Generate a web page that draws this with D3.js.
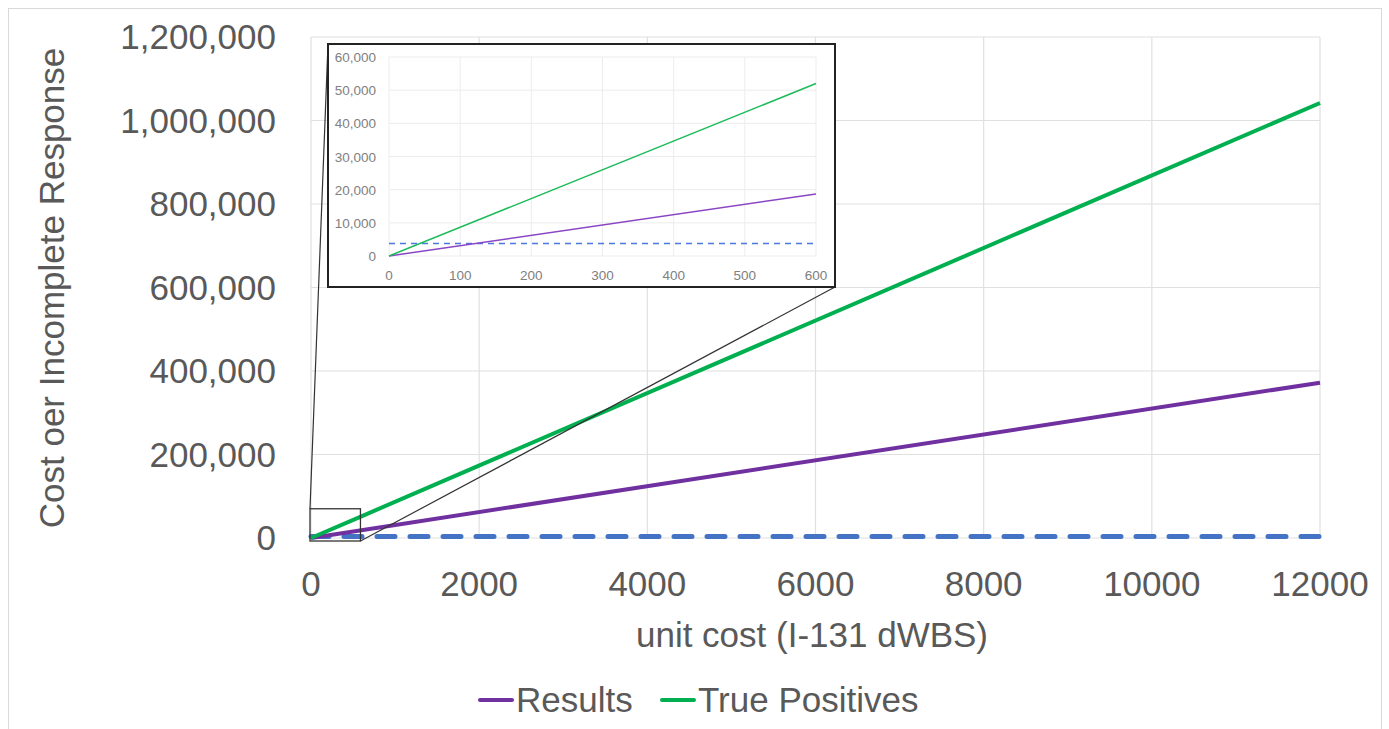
<!DOCTYPE html>
<html>
<head>
<meta charset="utf-8">
<script src="https://cdn.jsdelivr.net/npm/d3@7"></script>
<style>
  body { margin: 0; background: #fff; }
  text { font-family: "Liberation Sans", Arial, sans-serif; }
</style>
</head>
<body>
<script>
// data
var unitCost = [0, 600, 12000];
var results = [0, 18700, 372000];
var truePositives = [0, 52000, 1042000];
var threshold = [3800, 3800, 3800];
var xTicks = [0, 2000, 4000, 6000, 8000, 10000, 12000];
var yTicks = [0, 200000, 400000, 600000, 800000, 1000000, 1200000];
var insetXTicks = [0, 100, 200, 300, 400, 500, 600];
var insetYTicks = [0, 10000, 20000, 30000, 40000, 50000, 60000];

var width = 1389, height = 729;
var svg = d3.select('body').append('svg')
    .attr('width', width)
    .attr('height', height);

// outer frame
svg.append('rect')
    .attr('x', 8.5).attr('y', 8.5)
    .attr('width', 1373).attr('height', 740)
    .attr('fill', '#fff').attr('stroke', '#d9d9d9');

var x = d3.scaleLinear().domain([0, 12000]).range([311, 1320]);
var y = d3.scaleLinear().domain([0, 1200000]).range([538, 37]);
var fmt = d3.format(',');
var fs = 35;

// grid
svg.append('g').selectAll('line').data(yTicks).enter().append('line')
    .attr('x1', x(0)).attr('x2', x(12000))
    .attr('y1', function (d) { return y(d); }).attr('y2', function (d) { return y(d); })
    .attr('stroke', '#e0e0e0').attr('stroke-width', 1.2);
svg.append('g').selectAll('line').data(xTicks).enter().append('line')
    .attr('y1', y(0)).attr('y2', y(1200000))
    .attr('x1', function (d) { return x(d); }).attr('x2', function (d) { return x(d); })
    .attr('stroke', '#e0e0e0').attr('stroke-width', 1.2);

// tick labels
svg.append('g').selectAll('text').data(yTicks).enter().append('text')
    .attr('x', 276).attr('y', function (d) { return y(d) + 12; })
    .attr('text-anchor', 'end')
    .attr('font-size', fs).attr('fill', '#595959')
    .text(function (d) { return fmt(d); });
svg.append('g').selectAll('text').data(xTicks).enter().append('text')
    .attr('x', function (d) { return x(d); }).attr('y', 596)
    .attr('text-anchor', 'middle')
    .attr('font-size', fs).attr('fill', '#595959')
    .text(function (d) { return d; });

// axis titles
svg.append('text')
    .attr('x', 812).attr('y', 647)
    .attr('text-anchor', 'middle')
    .attr('font-size', fs).attr('fill', '#595959')
    .text('unit cost (I-131 dWBS)');
svg.append('text')
    .attr('transform', 'translate(64,288) rotate(-90)')
    .attr('text-anchor', 'middle')
    .attr('font-size', fs).attr('fill', '#595959')
    .text('Cost oer Incomplete Response');

function series(xs, ys, sx, sy) {
    return d3.line()
        .x(function (d, i) { return sx(xs[i]); })
        .y(function (d) { return sy(d); })(ys);
}

// main series
svg.append('path').attr('d', series(unitCost, threshold, x, y))
    .attr('fill', 'none').attr('stroke', '#4472C4').attr('stroke-width', 5)
    .attr('stroke-dasharray', '18,15').attr('stroke-linecap', 'round');
svg.append('path').attr('d', series(unitCost, results, x, y))
    .attr('fill', 'none').attr('stroke', '#7030A0').attr('stroke-width', 4);
svg.append('path').attr('d', series(unitCost, truePositives, x, y))
    .attr('fill', 'none').attr('stroke', '#00B050').attr('stroke-width', 4);

// zoom region marker and connectors
var insetBox = { x0: 328, y0: 44, x1: 835, y1: 287 };
var rx0 = x(0) - 1, rx1 = x(600) - 1, ry0 = y(70000), ry1 = y(0) + 3;
svg.append('rect')
    .attr('x', rx0).attr('y', ry0)
    .attr('width', rx1 - rx0).attr('height', ry1 - ry0)
    .attr('fill', 'none').attr('stroke', '#333').attr('stroke-width', 1.3);
svg.append('line')
    .attr('x1', rx0).attr('y1', ry0).attr('x2', insetBox.x0).attr('y2', insetBox.y0)
    .attr('stroke', '#333').attr('stroke-width', 1.2);
svg.append('line')
    .attr('x1', rx1).attr('y1', ry1).attr('x2', insetBox.x1).attr('y2', insetBox.y1)
    .attr('stroke', '#333').attr('stroke-width', 1.2);

// inset
svg.append('rect')
    .attr('x', insetBox.x0).attr('y', insetBox.y0)
    .attr('width', insetBox.x1 - insetBox.x0).attr('height', insetBox.y1 - insetBox.y0)
    .attr('fill', '#fff').attr('stroke', '#222').attr('stroke-width', 2);

var ix = d3.scaleLinear().domain([0, 600]).range([389, 816]);
var iy = d3.scaleLinear().domain([0, 60000]).range([256, 57]);
var inset = svg.append('g');

inset.selectAll('line.h').data(insetYTicks).enter().append('line')
    .attr('x1', ix(0)).attr('x2', ix(600))
    .attr('y1', function (d) { return iy(d); }).attr('y2', function (d) { return iy(d); })
    .attr('stroke', '#ececec');
inset.selectAll('line.v').data(insetXTicks).enter().append('line')
    .attr('y1', iy(0)).attr('y2', iy(60000))
    .attr('x1', function (d) { return ix(d); }).attr('x2', function (d) { return ix(d); })
    .attr('stroke', '#ececec');
inset.selectAll('text.y').data(insetYTicks).enter().append('text')
    .attr('x', 376).attr('y', function (d) { return iy(d) + 5; })
    .attr('text-anchor', 'end').attr('font-size', 13.5).attr('fill', '#808080')
    .text(function (d) { return fmt(d); });
inset.selectAll('text.x').data(insetXTicks).enter().append('text')
    .attr('x', function (d) { return ix(d); }).attr('y', 280)
    .attr('text-anchor', 'middle').attr('font-size', 13.5).attr('fill', '#808080')
    .text(function (d) { return d; });

inset.append('path').attr('d', series(unitCost.slice(0, 2), threshold.slice(0, 2), ix, iy))
    .attr('fill', 'none').attr('stroke', '#4a78e0').attr('stroke-width', 1.5)
    .attr('stroke-dasharray', '6,5');
inset.append('path').attr('d', series(unitCost.slice(0, 2), results.slice(0, 2), ix, iy))
    .attr('fill', 'none').attr('stroke', '#8a46c4').attr('stroke-width', 1.5);
inset.append('path').attr('d', series(unitCost.slice(0, 2), truePositives.slice(0, 2), ix, iy))
    .attr('fill', 'none').attr('stroke', '#1dbb5a').attr('stroke-width', 1.5);

// legend
var legend = [
    { name: 'Results', color: '#7030A0', x: 480 },
    { name: 'True Positives', color: '#00B050', x: 662 }
];
var lg = svg.append('g').selectAll('g').data(legend).enter().append('g');
lg.append('line')
    .attr('x1', function (d) { return d.x; }).attr('x2', function (d) { return d.x + 32; })
    .attr('y1', 700).attr('y2', 700)
    .attr('stroke', function (d) { return d.color; })
    .attr('stroke-width', 4).attr('stroke-linecap', 'round');
lg.append('text')
    .attr('x', function (d) { return d.x + 36; }).attr('y', 712)
    .attr('font-size', fs).attr('fill', '#595959')
    .text(function (d) { return d.name; });
</script>
</body>
</html>
